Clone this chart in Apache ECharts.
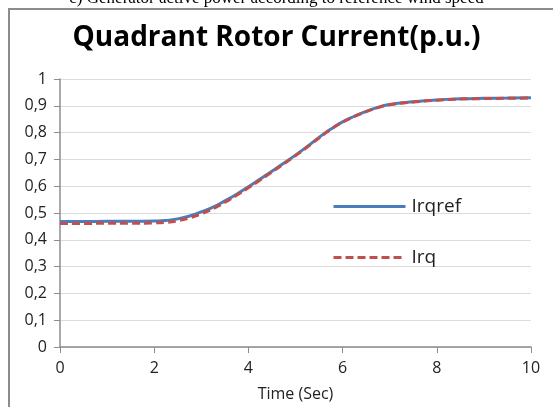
<!DOCTYPE html>
<html>
<head>
<meta charset="utf-8">
<script src="https://cdn.jsdelivr.net/npm/echarts@6/dist/echarts.min.js"></script>
<style>
  html, body { margin: 0; padding: 0; background: #fff; }
  #chart { width: 553px; height: 407px; }
</style>
</head>
<body>
<div id="chart"></div>
<script>
// time samples (s)
const timeSec = [0, 0.5, 1, 1.5, 2, 2.25, 2.5, 2.75, 3, 3.25, 3.5, 3.75, 4, 4.25, 4.5, 4.75,
  5, 5.25, 5.5, 5.75, 6, 6.25, 6.5, 6.75, 7, 7.5, 8, 8.5, 9, 9.5, 10];
// reference quadrant rotor current
const irqref = [0.468, 0.468, 0.469, 0.469, 0.470, 0.472, 0.478, 0.489, 0.504, 0.522, 0.545, 0.570,
  0.598, 0.627, 0.656, 0.686, 0.716, 0.748, 0.782, 0.813, 0.840, 0.861, 0.879, 0.894, 0.905,
  0.915, 0.922, 0.926, 0.928, 0.929, 0.930];
// measured quadrant rotor current
const irq = [0.461, 0.461, 0.462, 0.462, 0.463, 0.465, 0.471, 0.482, 0.497, 0.516, 0.540, 0.566,
  0.594, 0.623, 0.653, 0.683, 0.714, 0.746, 0.780, 0.812, 0.839, 0.860, 0.878, 0.893, 0.904,
  0.914, 0.921, 0.925, 0.927, 0.928, 0.929];

const font = '"Open Sans", sans-serif';
const chart = echarts.init(document.getElementById('chart'));

chart.setOption({
  backgroundColor: '#fff',
  animation: false,
  title: {
    text: 'Quadrant Rotor Current(p.u.)',
    left: 'center',
    top: 19,
    textStyle: { fontFamily: font, fontSize: 28, fontWeight: 'bold', color: '#000' }
  },
  graphic: [
    {
      type: 'text',
      left: 'center',
      top: -10,
      style: {
        text: 'c) Generator active power according to reference wind speed',
        font: '17px "Liberation Serif", serif',
        fill: '#000'
      }
    },
    {
      type: 'rect',
      shape: { x: 9, y: 9, width: 560, height: 420 },
      style: { fill: 'none', stroke: '#8c8c8c', lineWidth: 2 },
      z: 100
    }
  ],
  legend: {
    orient: 'vertical',
    left: 327,
    top: 192,
    itemWidth: 72,
    itemHeight: 14,
    itemGap: 32,
    itemStyle: { opacity: 0 },
    lineStyle: { width: 3 },
    textStyle: { fontFamily: font, fontSize: 19, color: '#222', padding: [0, 0, 0, 1] },
    data: ['Irqref', 'Irq']
  },
  grid: { left: 60, right: 22, top: 79, bottom: 58 },
  xAxis: {
    type: 'value',
    min: 0,
    max: 10,
    interval: 2,
    name: 'Time (Sec)',
    nameLocation: 'middle',
    nameGap: 39,
    nameTextStyle: { fontFamily: font, fontSize: 16, color: '#222' },
    axisLine: { lineStyle: { color: '#8c8c8c', width: 1.5 } },
    axisTick: { show: true, length: 6, lineStyle: { color: '#8c8c8c' } },
    axisLabel: { fontFamily: font, fontSize: 16, color: '#222', margin: 13 },
    splitLine: { show: false }
  },
  yAxis: {
    type: 'value',
    min: 0,
    max: 1,
    interval: 0.1,
    axisLine: { show: true, lineStyle: { color: '#8c8c8c', width: 1.5 } },
    axisTick: { show: true, length: 6, lineStyle: { color: '#8c8c8c' } },
    axisLabel: {
      fontFamily: font, fontSize: 16, color: '#222', margin: 13,
      formatter: v => String(Math.round(v * 10) / 10).replace('.', ',')
    },
    splitLine: { lineStyle: { color: '#dcdcdc', width: 1 } }
  },
  series: [
    {
      name: 'Irqref',
      type: 'line',
      smooth: true,
      showSymbol: false,
      data: timeSec.map((t, i) => [t, irqref[i]]),
      lineStyle: { color: '#4a7ebb', width: 3 },
      itemStyle: { color: '#4a7ebb' }
    },
    {
      name: 'Irq',
      type: 'line',
      smooth: true,
      showSymbol: false,
      data: timeSec.map((t, i) => [t, irq[i]]),
      lineStyle: { color: '#c0504d', width: 3, type: [8, 4] },
      itemStyle: { color: '#c0504d' }
    }
  ]
});
</script>
</body>
</html>
